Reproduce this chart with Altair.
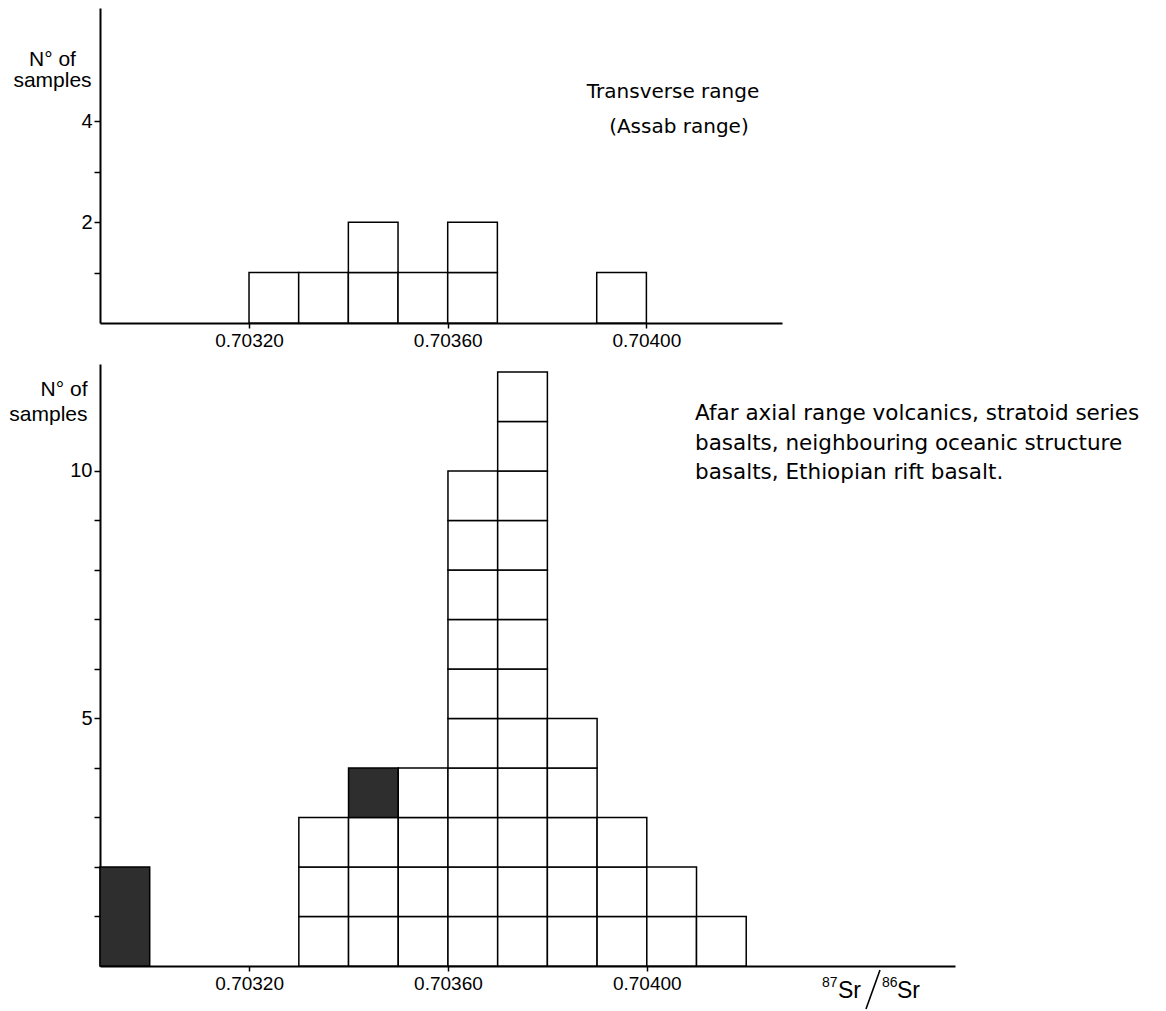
import altair as alt
import pandas as pd

FONT = "Liberation Sans"
NOTE_FONT = "DejaVu Sans"

# ---------------- data ----------------
bin_width = 0.0001

# Upper panel: Transverse range (Assab range)
top_bins = [0.70320, 0.70330, 0.70340, 0.70350, 0.70360, 0.70390]
top_counts = [1, 1, 2, 1, 2, 1]
top_filled = [0, 0, 0, 0, 0, 0]

# Lower panel: Afar axial range volcanics etc.
bot_bins = [0.70290, 0.70330, 0.70340, 0.70350, 0.70360, 0.70370,
            0.70380, 0.70390, 0.70400, 0.70410]
bot_counts = [2, 3, 4, 4, 10, 12, 5, 3, 2, 1]
bot_filled = [2, 0, 1, 0, 0, 0, 0, 0, 0, 0]   # shaded cells at top of column

x_ticks = [0.70320, 0.70360, 0.70400]
top_y_ticks = [1, 2, 3, 4]
top_y_labels = [2, 4]
bot_y_ticks = [1, 2, 3, 4, 5, 6, 7, 8, 9, 10]
bot_y_labels = [5, 10]

top_x_domain = [0.70290, 0.704273]
bot_x_domain = [0.70290, 0.704620]
top_y_domain = [0, 6.25]
bot_y_domain = [0, 12.16]

top_notes = ["Transverse range", "(Assab range)"]
bot_notes = ["Afar axial range volcanics, stratoid series",
             "basalts, neighbouring oceanic structure",
             "basalts, Ethiopian rift basalt."]


def cells(bins, counts, filled):
    rows = []
    for b, n, f in zip(bins, counts, filled):
        for k in range(n - f):
            rows.append({"x0": b, "x1": b + bin_width, "y0": k, "y1": k + 1, "kind": "open"})
        if f > 0:
            rows.append({"x0": b, "x1": b + bin_width, "y0": n - f, "y1": n, "kind": "filled"})
    return pd.DataFrame(rows)


def x_axis():
    return alt.Axis(values=x_ticks, format=".5f", title=None, grid=False,
                    labelFont=FONT, labelFontSize=19, labelColor="black",
                    labelPadding=3, labelFlush=False,
                    tickSize=5, tickWidth=1.5, tickColor="black",
                    domainColor="black", domainWidth=2)


def y_axis(ticks, labels, title_x, title_y, align, lh):
    expr = " || ".join(f"datum.value == {v}" for v in labels)
    return alt.Axis(values=ticks, labelExpr=f"({expr}) ? datum.label : ''",
                    grid=False, labelFont=FONT, labelFontSize=20,
                    labelColor="black", labelPadding=2,
                    tickSize=6, tickWidth=1.5, tickColor="black",
                    domainColor="black", domainWidth=2,
                    title=["N\u00b0 of", "samples"], titleAngle=0,
                    titleFont=FONT, titleFontSize=21, titleFontWeight="normal",
                    titleColor="black", titleAlign=align, titleBaseline="top",
                    titleX=title_x, titleY=title_y, titleLineHeight=lh)


fill_scale = alt.Scale(domain=["open", "filled"], range=["white", "#2e2e2e"])

# ---------------- upper panel ----------------
top_cells = alt.Chart(cells(top_bins, top_counts, top_filled)).mark_rect(
    stroke="black", strokeWidth=1.5
).encode(
    x=alt.X("x0:Q", scale=alt.Scale(domain=top_x_domain, nice=False, zero=False), axis=x_axis()),
    x2="x1:Q",
    y=alt.Y("y0:Q", scale=alt.Scale(domain=top_y_domain, nice=False),
            axis=y_axis(top_y_ticks, top_y_labels, -48, 40, "center", 21)),
    y2="y1:Q",
    fill=alt.Fill("kind:N", scale=fill_scale, legend=None),
)

top_text_df = pd.DataFrame({"x": [0.703880, 0.703925], "y": [4.58, 3.89], "t": top_notes})
top_text = alt.Chart(top_text_df).mark_text(
    font=NOTE_FONT, fontSize=20, align="left", baseline="middle", color="black"
).encode(x="x:Q", y="y:Q", text="t:N")

top = alt.layer(top_cells, top_text).properties(width=682, height=315)

# ---------------- lower panel ----------------
bot_cells = alt.Chart(cells(bot_bins, bot_counts, bot_filled)).mark_rect(
    stroke="black", strokeWidth=1.5
).encode(
    x=alt.X("x0:Q", scale=alt.Scale(domain=bot_x_domain, nice=False, zero=False), axis=x_axis()),
    x2="x1:Q",
    y=alt.Y("y0:Q", scale=alt.Scale(domain=bot_y_domain, nice=False),
            axis=y_axis(bot_y_ticks, bot_y_labels, -13, 14, "right", 25)),
    y2="y1:Q",
    fill=alt.Fill("kind:N", scale=fill_scale, legend=None),
)

bot_text_df = pd.DataFrame({"x": [0.704097] * 3, "y": [11.15, 10.55, 9.96], "t": bot_notes})
bot_text = alt.Chart(bot_text_df).mark_text(
    font=NOTE_FONT, fontSize=21.5, align="left", baseline="middle", color="black", clip=False
).encode(x="x:Q", y="y:Q", text="t:N")

# x-axis label 87Sr / 86Sr
lab_df = pd.DataFrame({
    "t": ["87", "Sr", "86", "Sr"],
    "px": [722, 738, 782, 797],
    "py": [623, 634, 623, 634],
    "fs": [14, 23, 14, 23],
})
lab_layers = []
for _, r in lab_df.iterrows():
    lab_layers.append(
        alt.Chart(pd.DataFrame([r])).mark_text(
            font=FONT, fontSize=int(r.fs), align="left", baseline="alphabetic",
            color="black", clip=False
        ).encode(x=alt.value(int(r.px)), y=alt.value(int(r.py)), text="t:N")
    )
slash = alt.Chart(pd.DataFrame({"t": ["/"]})).mark_rule(
    color="black", strokeWidth=1.6, clip=False
).encode(x=alt.value(780), y=alt.value(606), x2=alt.value(766), y2=alt.value(645))

bot = alt.layer(bot_cells, bot_text, *lab_layers, slash).properties(width=855, height=602)

chart = alt.vconcat(top, bot, spacing=14).properties(
    padding={"left": 0, "top": 0, "right": 5, "bottom": 0},
    background="white",
).configure_view(stroke=None).configure_text(font=FONT)

chart.save("out.html", embed_options={"renderer": "svg", "actions": False})
